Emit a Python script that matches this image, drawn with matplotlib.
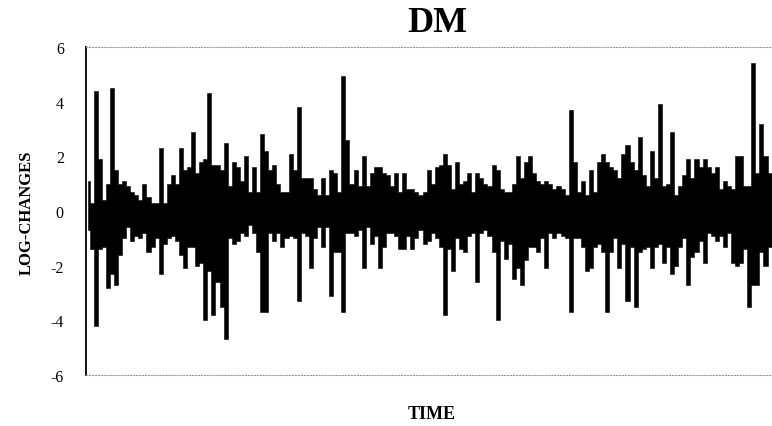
import matplotlib.pyplot as plt
import numpy as np

# upper and lower envelope of the log-changes
hi = [1.1, 0.3, 4.4, 1.9, 0.4, 1.0, 4.5, 1.5, 1.0, 1.1,
      0.9, 0.7, 0.6, 0.4, 1.0, 0.5, 0.3, 0.3, 2.3, 0.3,
      1.0, 1.3, 1.0, 2.3, 1.5, 1.6, 2.9, 1.4, 1.8, 1.9,
      4.3, 1.7, 1.7, 1.5, 2.5, 0.9, 1.8, 1.6, 1.1, 2.0,
      0.7, 1.6, 0.7, 2.8, 2.2, 1.5, 1.7, 1.0, 0.7, 0.7,
      2.1, 1.5, 3.8, 1.2, 1.2, 1.2, 0.8, 0.6, 1.2, 0.6,
      1.5, 1.4, 0.7, 4.95, 2.6, 1.0, 1.5, 0.9, 2.0, 0.9,
      1.4, 1.6, 1.6, 1.4, 1.3, 0.9, 1.4, 0.7, 1.4, 0.8,
      0.8, 0.7, 0.6, 0.7, 1.5, 1.0, 1.6, 1.7, 2.1, 1.7,
      0.8, 1.8, 1.0, 1.1, 1.4, 0.7, 1.4, 1.2, 1.0, 0.9,
      1.7, 1.5, 0.8, 0.7, 0.7, 1.0, 2.0, 1.2, 1.8, 2.0,
      1.4, 1.1, 1.0, 1.1, 1.0, 0.8, 0.9, 0.8, 0.6, 3.7,
      1.8, 0.7, 1.1, 0.6, 1.5, 0.7, 1.8, 2.1, 1.8, 1.6,
      1.5, 1.2, 2.1, 2.4, 1.8, 1.5, 2.7, 1.3, 0.9, 2.2,
      1.2, 3.9, 0.9, 1.0, 2.9, 0.6, 0.9, 1.3, 1.9, 1.2,
      1.9, 1.6, 1.9, 1.6, 1.4, 1.6, 0.8, 1.1, 0.9, 0.8,
      2.0, 2.0, 0.9, 0.9, 5.4, 1.4, 3.2, 2.0, 1.4, 2.9,
      2.4]
lo = [-0.7, -1.4, -4.2, -1.4, -1.3, -2.8, -2.3, -2.7, -1.6, -1.0,
      -0.6, -1.1, -0.9, -1.0, -0.8, -1.5, -1.3, -1.0, -2.3, -1.2,
      -1.0, -0.9, -1.1, -1.6, -2.1, -1.3, -1.3, -2.0, -1.9, -4.0,
      -2.2, -3.8, -2.6, -3.5, -4.7, -1.0, -1.2, -1.1, -0.8, -0.9,
      -0.5, -0.8, -1.5, -3.7, -3.7, -0.8, -1.1, -0.8, -1.3, -1.0,
      -0.9, -1.0, -3.3, -0.8, -0.9, -2.1, -1.0, -0.6, -1.3, -0.6,
      -3.1, -1.5, -1.5, -3.7, -0.8, -0.8, -0.9, -0.7, -2.1, -0.6,
      -1.2, -0.9, -2.1, -1.3, -0.8, -0.8, -0.9, -1.4, -1.4, -0.9,
      -1.4, -1.0, -0.7, -1.2, -1.1, -0.8, -1.0, -1.3, -3.8, -1.4,
      -2.2, -1.0, -1.4, -1.5, -0.9, -0.8, -2.6, -0.8, -0.7, -0.9,
      -1.5, -4.0, -1.1, -1.75, -1.2, -2.5, -2.1, -2.7, -1.8, -1.3,
      -1.3, -1.5, -1.0, -2.1, -0.8, -1.0, -0.8, -0.9, -1.0, -3.7,
      -1.0, -1.0, -1.3, -2.2, -2.1, -1.3, -1.2, -1.5, -3.7, -1.5,
      -1.0, -2.1, -1.2, -3.3, -1.3, -3.5, -1.5, -1.4, -1.3, -2.1,
      -1.3, -1.2, -1.9, -1.3, -2.3, -2.0, -1.3, -1.0, -2.7, -1.7,
      -1.5, -1.1, -1.9, -0.8, -0.9, -1.1, -0.9, -1.3, -0.8, -1.9,
      -2.0, -1.9, -1.4, -3.5, -2.7, -2.7, -1.5, -2.0, -1.3, -1.6,
      -2.0]
yticks = [-6, -4, -2, 0, 2, 4, 6]

t = np.arange(len(hi))

plt.rcParams['font.family'] = ['Liberation Serif', 'DejaVu Serif']

fig = plt.figure(figsize=(7.72, 4.27), dpi=100)
ax = fig.add_axes([86 / 772, 1 - 376 / 427, 1 - 86 / 772 + 0.01, 328 / 427])

# dense oscillation drawn as a filled band between the two envelopes
ax.fill_between(t, lo, hi, step='mid', color='black', linewidth=0.4,
                edgecolor='black')
ax.set_xlim(-0.4, len(hi) - 0.5)
ax.set_ylim(-6, 6)
ax.set_yticks(yticks)
ax.set_yticklabels([str(v) for v in yticks], fontsize=11.5)
ax.set_xticks([])
ax.tick_params(axis='y', length=0, pad=16)

ax.spines['right'].set_visible(False)
ax.spines['left'].set_linewidth(1.3)
for s in ['top', 'bottom']:
    ax.spines[s].set_linestyle(':')
    ax.spines[s].set_color('#999999')
    ax.spines[s].set_linewidth(0.8)

fig.text(437 / 772, 1 - 24 / 427, 'DM', fontsize=26, fontweight='bold',
         ha='center', va='center')
fig.text(27 / 772, 1 - 213 / 427, 'LOG-CHANGES', fontsize=12, fontweight='bold',
         rotation=90, ha='center', va='center')
fig.text(432 / 772, 1 - 415 / 427, 'TIME', fontsize=13, fontweight='bold',
         ha='center', va='center')

fig.savefig('out.png', dpi=100)
